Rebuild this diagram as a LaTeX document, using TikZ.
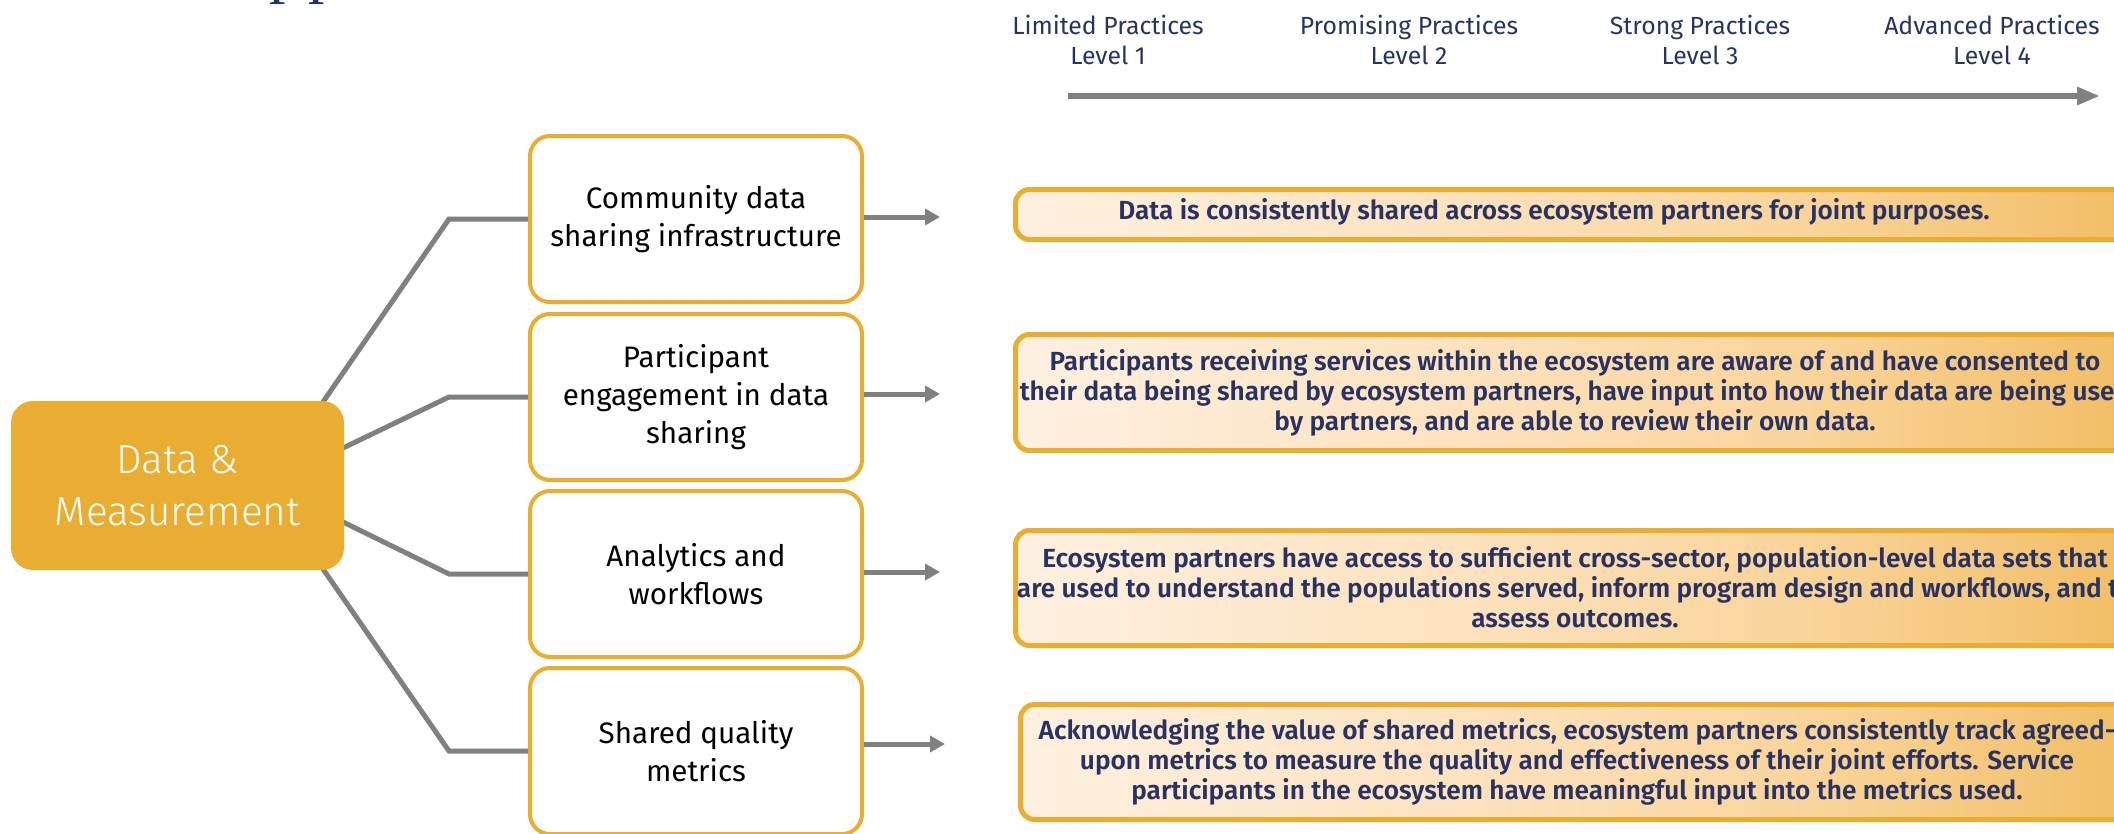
\documentclass[tikz,border=0pt]{standalone}
\usepackage{fontspec}
\setmainfont{Fira Sans}
\newfontfamily\lightfont{Fira Sans Light}
\newfontfamily\condbold{Fira Sans SemiBold}
\newfontfamily\titleserif{Liberation Serif}
\usetikzlibrary{arrows.meta,calc}

\definecolor{gold}{RGB}{233,173,50}
\definecolor{navy}{RGB}{40,51,99}
\definecolor{linegray}{RGB}{128,128,128}
\definecolor{grad0}{RGB}{255,251,246}
\definecolor{grad1}{RGB}{254,240,224}
\definecolor{grad2}{RGB}{253,226,190}
\definecolor{grad3}{RGB}{250,212,154}
\definecolor{grad4}{RGB}{242,192,106}
\definecolor{grad5}{RGB}{236,180,68}

% white-to-gold fill of the level descriptions
\pgfdeclarehorizontalshading{levelgrad}{100bp}{%
  color(0bp)=(grad0); color(25bp)=(grad1); color(45bp)=(grad2);
  color(60bp)=(grad3); color(73bp)=(grad4); color(85bp)=(grad5);
  color(93bp)=(gold); color(100bp)=(gold)}

\tikzset{
  hub/.style={fill=gold, rounded corners=22pt, minimum width=333pt,
    minimum height=169pt, align=center, text=white,
    font=\lightfont\fontsize{40.5}{52}\selectfont},
  area/.style={draw=gold, line width=4pt, fill=white, rounded corners=20pt,
    minimum width=332pt, minimum height=166pt, align=center, text=black,
    font=\fontsize{29.6}{38}\selectfont},
  levelbox/.style={draw=gold, line width=5pt, shading=levelgrad,
    rounded corners=14pt, anchor=north west, minimum width=1127pt},
  leveltext/.style={align=center, text=navy,
    font=\condbold\fontsize{26.2}{29.8}\selectfont},
  header/.style={align=center, text=navy, font=\fontsize{24.8}{30}\selectfont},
  conn/.style={draw=linegray, line width=5pt},
  pointer/.style={draw=linegray, line width=5pt,
    -{Triangle[length=15pt,width=16pt]}},
  scale axis/.style={draw=linegray, line width=6pt,
    -{Triangle[length=23pt,width=17pt]}},
}

\begin{document}
\begin{tikzpicture}[x=1pt,y=-1pt]
\useasboundingbox (0,0) rectangle (2114,833);
\clip (0,0) rectangle (2114,833);

% descenders of the title line above
\node[anchor=base west, inner sep=0pt, text=navy,
  font=\titleserif\fontsize{66}{70}\selectfont] (title) at (269,-10) {p\kern6pt p};

% level scale
\node[header] (h1) at (1108,40) {Limited Practices\\Level 1};
\node[header] (h2) at (1409,40) {Promising Practices\\Level 2};
\node[header] (h3) at (1700,40) {Strong Practices\\Level 3};
\node[header] (h4) at (1992,40) {Advanced Practices\\Level 4};
\coordinate (ax0) at (1068,96);
\coordinate (ax1) at (2100,96);
\draw[scale axis] (ax0) -- (ax1);

% elbow points of the branches
\coordinate (e1) at (449,219);
\coordinate (e2) at (449,397);
\coordinate (e3) at (449,574);
\coordinate (e4) at (449,751);
\coordinate (s1) at (323,402);
\coordinate (s2) at (343,448);
\coordinate (s3) at (343,522);
\coordinate (s4) at (323,569);

% focus areas
\node[area] (m1) at (696,219) {Community data\\sharing infrastructure};
\node[area] (m2) at (696,397) {Participant\\engagement in data\\sharing};
\node[area] (m3) at (696,574) {Analytics and\\workflows};
\node[area] (m4) at (696,751) {Shared quality\\metrics};

\draw[conn] (s1) -- (e1) -- (m1.west);
\draw[conn] (s2) -- (e2) -- (m2.west);
\draw[conn] (s3) -- (e3) -- (m3.west);
\draw[conn] (s4) -- (e4) -- (m4.west);

\node[hub] (hub) at (177.5,485.5) {Data \&\\Measurement};

% pointers to the level descriptions
\coordinate (a1) at (940,217);
\coordinate (a2) at (940,394);
\coordinate (a3) at (940,572);
\coordinate (a4) at (945,744);
\draw[pointer] (m1.east |- a1) -- (a1);
\draw[pointer] (m2.east |- a2) -- (a2);
\draw[pointer] (m3.east |- a3) -- (a3);
\draw[pointer] (m4.east |- a4) -- (a4);

% level descriptions
\node[levelbox, minimum height=50pt] (r1) at (1013,187) {};
\node[levelbox, minimum height=116pt] (r2) at (1013,332) {};
\node[levelbox, minimum height=115pt] (r3) at (1013,528) {};
\node[levelbox, minimum height=115pt] (r4) at (1018,702) {};

\node[leveltext] (t1) at (1554,212) {Data is consistently shared across ecosystem partners for joint purposes.};
\node[leveltext] (t2) at (1575,393) {Participants receiving services within the ecosystem are aware of and have consented to\\their data being shared by ecosystem partners, have input into how their data are being used\\by partners, and are able to review their own data.};
\node[leveltext] (t3) at (1575,587) {Ecosystem partners have access to sufficient cross-sector, population-level data sets that\\are used to understand the populations served, inform program design and workflows, and to\\assess outcomes.};
\node[leveltext] (t4) at (1577,762) {Acknowledging the value of shared metrics, ecosystem partners consistently track agreed-\\upon metrics to measure the quality and effectiveness of their joint efforts. Service\\participants in the ecosystem have meaningful input into the metrics used.};
\end{tikzpicture}
\end{document}
